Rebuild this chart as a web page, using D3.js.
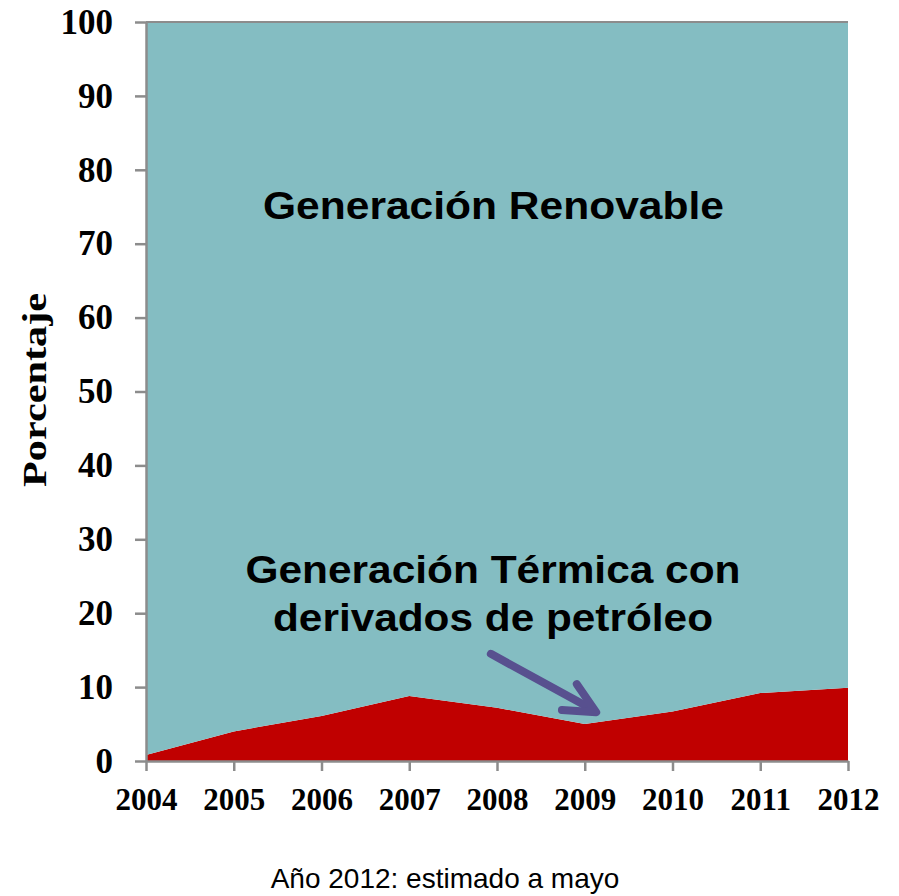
<!DOCTYPE html>
<html>
<head>
<meta charset="utf-8">
<script src="https://cdn.jsdelivr.net/npm/d3@7"></script>
<style>
  body { margin: 0; background: #fff; }
  svg { display: block; }
  .yaxis text, .xaxis text { font-family: "Liberation Serif", "Times New Roman", serif; font-weight: bold; fill: #000; }
  .label { font-family: "Liberation Sans", Arial, sans-serif; font-weight: bold; fill: #000; }
</style>
</head>
<body>
<div class="chart"></div>
<script>
//Data
const years = [2004, 2005, 2006, 2007, 2008, 2009, 2010, 2011, 2012];
const termica = [0.8, 4.0, 6.1, 8.8, 7.2, 5.0, 6.7, 9.2, 9.9];
const renovable = [99.2, 96.0, 93.9, 91.2, 92.8, 95.0, 93.3, 90.8, 90.1];
const yTicks = [0, 10, 20, 30, 40, 50, 60, 70, 80, 90, 100];

// flecha en coordenadas de datos [año, porcentaje]
const arrowShaft = [[2007.93, 14.5], [2009.1, 6.9]];
const arrowHead = [[2008.91, 10.4], [2009.13, 6.6], [2008.74, 6.9]];

const rows = years.map((y, i) => ({year: y, termica: termica[i], renovable: renovable[i]}));

const svg_width = 899;
const svg_height = 896;
const margin = {top: 22, right: 51, bottom: 135, left: 146};
const chart_width = svg_width - margin.left - margin.right;
const chart_height = svg_height - margin.top - margin.bottom;

const svg = d3.select('.chart').append('svg')
  .attr('width', svg_width).attr('height', svg_height);
const g = svg.append('g').attr('transform', `translate(${margin.left},${margin.top})`);

const xScale = d3.scaleLinear().domain(d3.extent(years)).range([0, chart_width]);
const yScale = d3.scaleLinear().domain([0, 100]).range([chart_height, 0]);

const stack = d3.stack().keys(['termica', 'renovable']);
const series = stack(rows);
const colors = {termica: '#C00000', renovable: '#84BDC2'};

const area = d3.area()
  .x(d => xScale(d.data.year))
  .y0(d => yScale(d[0]))
  .y1(d => yScale(Math.min(d[1], 100)));

g.selectAll('.area').data(series).enter()
  .append('path').attr('class', 'area')
  .attr('d', area)
  .style('fill', d => colors[d.key]);

// borde superior
g.append('line')
  .attr('x1', 0).attr('x2', chart_width)
  .attr('y1', 0).attr('y2', 0)
  .style('stroke', '#8c8c8c').style('stroke-width', 2);

const yAxis = d3.axisLeft(yScale).tickValues(yTicks).tickSizeInner(11).tickSizeOuter(0).tickPadding(22);
const yAxisDraw = g.append('g').attr('class', 'yaxis').call(yAxis);
yAxisDraw.selectAll('text').style('font-size', '35px');

const xAxis = d3.axisBottom(xScale).tickValues(years).tickFormat(d3.format('d'))
  .tickSizeInner(10).tickSizeOuter(0).tickPadding(17);
const xAxisDraw = g.append('g').attr('class', 'xaxis')
  .attr('transform', `translate(0,${chart_height})`).call(xAxis);
xAxisDraw.selectAll('text').style('font-size', '31px');

svg.selectAll('.domain, .tick line').style('stroke', '#8c8c8c').style('stroke-width', 2.5);

// flecha
const arrowLine = d3.line().x(d => xScale(d[0])).y(d => yScale(d[1]));
[arrowShaft, arrowHead].forEach(p => {
  g.append('path').attr('d', arrowLine(p))
    .style('fill', 'none').style('stroke', '#58508F').style('stroke-width', 8)
    .style('stroke-linecap', 'round').style('stroke-linejoin', 'round');
});

// textos
const labels = [
  {text: 'Generación Renovable', x: 493.5, y: 219, len: 461, size: 38},
  {text: 'Generación Térmica con', x: 493, y: 583, len: 495, size: 38},
  {text: 'derivados de petróleo', x: 493, y: 631, len: 440, size: 38}
];
labels.forEach(l => {
  svg.append('text').attr('class', 'label')
    .attr('x', l.x).attr('y', l.y)
    .attr('text-anchor', 'middle')
    .attr('textLength', l.len).attr('lengthAdjust', 'spacingAndGlyphs')
    .style('font-size', l.size + 'px')
    .text(l.text);
});

svg.append('text')
  .attr('transform', 'translate(46,390) rotate(-90)')
  .attr('text-anchor', 'middle')
  .attr('textLength', 194).attr('lengthAdjust', 'spacingAndGlyphs')
  .style('font-family', '"Liberation Serif", "Times New Roman", serif')
  .style('font-weight', 'bold').style('font-size', '33px')
  .text('Porcentaje');

svg.append('text')
  .attr('x', 445).attr('y', 888)
  .attr('text-anchor', 'middle')
  .style('font-family', '"Liberation Sans", Arial, sans-serif')
  .style('font-size', '28px')
  .text('Año 2012: estimado a mayo');
</script>
</body>
</html>
